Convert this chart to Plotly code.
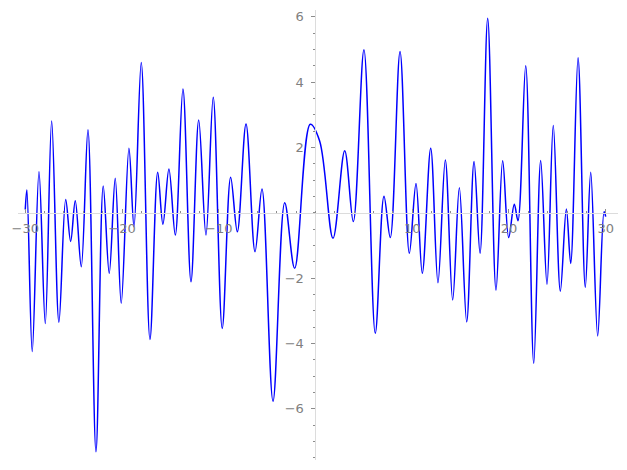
import plotly.graph_objects as go

# Curve samples (local extrema)
x_vals = [-30.0, -29.83, -29.28, -28.58, -27.93, -27.27, -26.52, -25.82, -25.31, -24.83,
          -24.21, -23.52, -22.69, -21.94, -21.32, -20.70, -20.08, -19.28, -18.76, -18.01,
          -17.11, -16.31, -15.77, -15.15, -14.49, -13.70, -12.87, -12.07, -11.32, -10.57,
          -9.64, -8.77, -8.08, -7.18, -6.25, -5.53, -4.39, -3.18, -2.15, -0.54,
          0.43, 1.81, 3.02, 3.91, 5.01, 6.18, 7.08, 7.73, 8.74, 9.70,
          10.39, 11.04, 11.91, 12.66, 13.42, 14.18, 14.87, 15.63, 16.39, 17.01,
          17.80, 18.66, 19.35, 19.97, 20.55, 20.93, 21.73, 22.56, 23.28, 23.93,
          24.58, 25.31, 25.93, 26.38, 27.14, 27.89, 28.45, 29.17, 29.83, 30.0]
y_vals = [0.1, 0.7, -4.25, 1.26, -3.39, 2.81, -3.35, 0.41, -0.88, 0.37,
          -1.65, 2.54, -7.32, 0.82, -1.85, 1.06, -2.77, 1.98, -0.43, 4.6,
          -3.88, 1.24, -0.35, 1.34, -0.68, 3.79, -2.11, 2.84, -0.68, 3.54,
          -3.54, 1.09, -0.58, 2.72, -1.19, 0.73, -5.77, 0.31, -1.7, 2.71,
          2.2, -0.78, 1.9, -0.27, 4.99, -3.69, 0.51, -0.76, 4.94, -1.24,
          0.9, -1.85, 1.98, -2.14, 1.62, -2.67, 0.77, -3.34, 1.57, -1.24,
          5.96, -2.37, 1.59, -0.76, 0.26, -0.24, 4.5, -4.61, 1.6, -2.19,
          2.67, -2.4, 0.12, -1.55, 4.75, -2.28, 1.24, -3.77, 0.03, -0.12]

x_tick_vals = [-30, -20, -10, 10, 20, 30]
x_tick_text = ["\u221230", "\u221220", "\u221210", "10", "20", "30"]
y_tick_vals = [-6, -4, -2, 2, 4, 6]
y_tick_text = ["\u22126", "\u22124", "\u22122", "2", "4", "6"]

x_range = [-30.75, 31.27]
y_range = [-7.57, 6.21]

x_axis_pos = (0 - y_range[0]) / (y_range[1] - y_range[0])
y_axis_pos = (0 - x_range[0]) / (x_range[1] - x_range[0])

fig = go.Figure()
fig.add_trace(go.Scatter(
    x=x_vals, y=y_vals, mode="lines",
    line=dict(color="#0000ff", width=1.5, shape="spline", smoothing=1.0),
    hoverinfo="skip", showlegend=False,
))

axis_line = "#dcdcdc"
tick_col = "#8c8c8c"
font = dict(family="DejaVu Sans", size=13, color="#808080")

fig.update_layout(
    width=619, height=462,
    margin=dict(l=10, r=9, t=2, b=10),
    paper_bgcolor="white", plot_bgcolor="white",
    xaxis=dict(
        range=x_range, anchor="free", position=x_axis_pos,
        showgrid=False, zeroline=False,
        showline=True, linecolor=axis_line, linewidth=1,
        tickmode="array", tickvals=x_tick_vals, ticktext=x_tick_text,
        ticks="inside", ticklen=4, tickcolor=tick_col, tickwidth=1,
        ticklabelstandoff=4,
        minor=dict(dtick=2, tick0=0, ticks="inside", ticklen=2, tickcolor=tick_col, showgrid=False),
        tickfont=font,
    ),
    yaxis=dict(
        range=y_range, anchor="free", position=y_axis_pos,
        showgrid=False, zeroline=False,
        showline=True, linecolor=axis_line, linewidth=1,
        tickmode="array", tickvals=y_tick_vals, ticktext=y_tick_text,
        ticks="outside", ticklen=4, tickcolor=tick_col, tickwidth=1,
        ticklabelstandoff=5,
        minor=dict(dtick=0.5, tick0=0, ticks="outside", ticklen=2, tickcolor=tick_col, showgrid=False),
        tickfont=font,
    ),
)

fig.write_html("out.html")
